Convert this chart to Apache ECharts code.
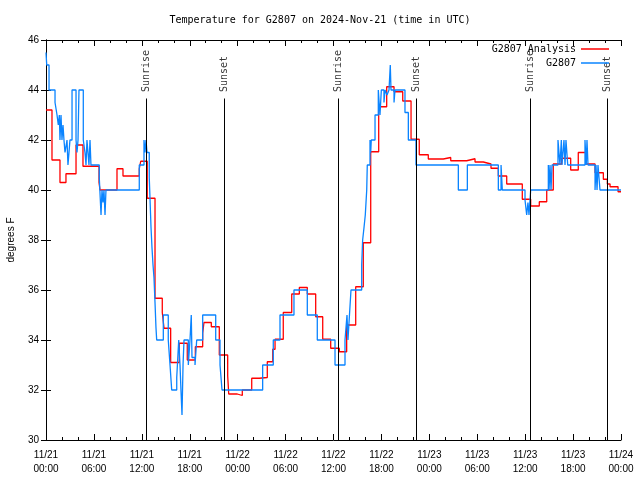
<!DOCTYPE html>
<html><head><meta charset="utf-8">
<script src="https://cdn.jsdelivr.net/npm/echarts@6/dist/echarts.min.js"></script>
<style>html,body{margin:0;padding:0;background:#fff}#c{width:640px;height:480px}</style>
</head><body><div id="c"></div>
<script>
// hours since 2024-11-21 00:00 UTC
const redT = [0,0.75,1.75,2.5,3.76,4.63,6.64,6.76,8.89,9.64,11.68,11.86,12.68,13.65,14.56,14.78,15.61,16.69,17.69,18.7,19.62,19.78,20.7,21.7,22.75,22.88,23.95,24.58,25.76,26.71,27.71,28.39,28.68,29.71,30.77,31.72,32.72,33.77,34.65,35.65,36.73,37.65,38.78,39.73,40.66,41.66,42.66,43.58,44.67,45.71,46.74,47.87,49.75,50.68,52.68,53.72,54.76,55.72,56.64,57.69,59.64,60.69,61.77,62.7,63.52,64.57,65.7,66.65,67.62,68.75,69.79,70.29,70.63,71.63,72];
const redV = [43.2,41.2,40.3,40.65,41.8,40.95,40.3,40.0,40.85,40.56,40.85,41.15,39.67,35.67,35.1,34.47,33.1,33.87,33.2,33.73,34.27,34.7,34.53,33.4,32.57,31.84,31.78,32.0,32.47,32.5,33.13,33.63,34.03,35.1,35.84,36.1,35.84,34.93,34.03,33.67,33.53,34.6,36.13,37.89,41.53,43.33,44.13,43.93,43.56,42.03,41.41,41.24,41.3,41.17,41.25,41.12,41.04,40.87,40.56,40.24,39.63,39.36,39.53,40.0,41.04,41.27,40.8,41.5,41.04,40.69,40.43,40.24,40.13,39.93,39.93];

const blueT = [0,0.09,0.38,1.13,1.38,1.54,1.67,1.75,1.88,2.0,2.13,2.25,2.38,2.63,2.75,2.88,3.0,3.26,3.76,3.88,4.01,4.13,4.67,4.88,5.01,5.13,5.38,5.51,5.63,6.67,6.89,7.01,7.14,7.26,7.39,7.51,11.68,12.27,12.4,12.52,12.65,12.93,13.15,13.27,13.4,13.52,13.65,13.77,13.86,14.69,15.31,15.53,15.74,16.37,16.62,16.78,16.9,17.03,17.16,17.28,17.82,18.03,18.19,18.28,18.66,18.87,19.62,21.25,21.79,22.04,27.13,28.46,29.3,31.05,32.72,33.97,36.19,37.44,37.69,37.81,38.0,38.19,39.53,39.65,39.82,39.98,40.16,40.23,40.57,40.66,40.73,41.2,41.61,41.82,41.99,42.32,42.45,42.7,42.95,43.11,43.2,43.58,43.7,44.95,45.37,46.33,51.63,52.76,56.64,56.98,57.14,59.98,60.19,60.35,60.48,60.69,62.9,62.99,63.11,63.24,63.36,64.11,64.36,64.53,64.61,64.86,64.99,65.11,65.33,67.49,67.65,67.74,67.87,68.75,68.87,69.0,69.12,69.37,72];
const blueV = [45.5,45,44,43.5,43,42.6,43,42,43,42,42.6,42,41.5,42,41,41.5,42,44,42,41.5,42,44,42,41.5,41,42,41,42,41,40.5,39,40,39.5,40,39,40,41,42,41.5,42,41.5,40.5,38.5,37.7,37,36.5,35.5,34.5,34,35,34,33,32,32.5,34,33,32,31,33,34,33,34,35,33.3,33,34,35,34,33,32,33,34,35,36,35,34,33,34,35,34,35,36,37,38,38.5,39,40,41,42,41.5,42,43,44,43,44,43.5,44,43.8,44,45,44,43.5,44,43.1,42,41,40,41,40,41,40,39.6,39,39.5,39,40,41,40,41,40,41,42,41,42,41,42,41,42,41,42,41,42,41,40,41,40,41,40,40];

const sunT = [12.52,22.38,36.6,46.33,60.64,70.29];
const sunText = ['Sunrise','Sunset','Sunrise','Sunset','Sunrise','Sunset'];
const xTickLabels = ['11/21\n00:00','11/21\n06:00','11/21\n12:00','11/21\n18:00','11/22\n00:00','11/22\n06:00','11/22\n12:00','11/22\n18:00','11/23\n00:00','11/23\n06:00','11/23\n12:00','11/23\n18:00','11/24\n00:00'];

const mono = 'DejaVu Sans Mono';
const sans = 'Liberation Sans';
const redData = redT.map((t,i)=>[t,redV[i]]);
const blueData = blueT.map((t,i)=>[t,blueV[i]]);
const lineTop = 43.66, labelAnchor = 43.92;

const chart = echarts.init(document.getElementById('c'), null, {renderer:'canvas'});
const axisCommon = {
  axisLine:{show:true,lineStyle:{color:'#000',width:1}},
  splitLine:{show:false}
};
chart.setOption({
  animation:false,
  backgroundColor:'#fff',
  title:{text:'Temperature for G2807 on 2024-Nov-21 (time in UTC)',left:'center',top:10,
    textStyle:{fontFamily:mono,fontSize:10,fontWeight:'normal',color:'#000'}},
  legend:[
    {data:['G2807 Analysis'],right:31,top:44,align:'right',icon:'rect',itemWidth:28,itemHeight:1.5,
      textStyle:{fontFamily:mono,fontSize:10,color:'#000'},padding:0},
    {data:['G2807'],right:31,top:58,align:'right',icon:'rect',itemWidth:28,itemHeight:1.5,
      textStyle:{fontFamily:mono,fontSize:10,color:'#000'},padding:0}
  ],
  grid:{left:46,right:19,top:40,bottom:40,containLabel:false,outerBoundsMode:'none'},
  xAxis:[
    Object.assign({type:'value',min:0,max:72,interval:6,position:'bottom',
      axisTick:{show:true,inside:true,length:6,lineStyle:{color:'#000'}},
      minorTick:{show:true,splitNumber:3,length:3,lineStyle:{color:'#000'}},
      axisLabel:{fontFamily:sans,fontSize:10,color:'#000',margin:8,lineHeight:14,
        formatter:(v)=>xTickLabels[Math.round(v/6)]}},axisCommon),
    Object.assign({type:'value',min:0,max:72,interval:6,position:'top',
      axisTick:{show:true,inside:true,length:6,lineStyle:{color:'#000'}},
      minorTick:{show:true,splitNumber:3,length:3,lineStyle:{color:'#000'}},
      axisLabel:{show:false}},axisCommon)
  ],
  yAxis:[
    Object.assign({type:'value',min:30,max:46,interval:2,position:'left',
      name:'degrees F',nameLocation:'middle',nameRotate:90,nameGap:30,
      nameTextStyle:{fontFamily:sans,fontSize:10,color:'#000'},
      axisTick:{show:true,inside:true,length:5,lineStyle:{color:'#000'}},
      axisLabel:{fontFamily:sans,fontSize:10,color:'#000',margin:7}},axisCommon),
    Object.assign({type:'value',min:30,max:46,interval:2,position:'right',
      axisTick:{show:true,inside:true,length:5,lineStyle:{color:'#000'}},
      axisLabel:{show:false}},axisCommon)
  ],
  series:[
    {name:'sun',type:'line',data:[],z:1,silent:true,
      markLine:{symbol:['none','none'],silent:true,animation:false,
        lineStyle:{color:'#000',width:1,type:'solid'},label:{show:false},
        data:sunT.map(t=>[{coord:[t,30]},{coord:[t,lineTop]}])}},
    {name:'sunLabels',type:'scatter',symbolSize:0,z:1,silent:true,
      data:sunT.map((t,i)=>({value:[t,labelAnchor],name:sunText[i]})),
      label:{show:true,formatter:(p)=>p.name,position:'inside',rotate:90,align:'left',verticalAlign:'middle',
        fontFamily:mono,fontSize:10,color:'#000'}},
    {name:'G2807 Analysis',type:'line',step:'end',data:redData,showSymbol:false,symbol:'none',z:2,
      color:'#ff0000',lineStyle:{color:'#ff0000',width:1.3}},
    {name:'G2807',type:'line',step:'end',data:blueData,showSymbol:false,symbol:'none',z:3,
      color:'#0a84ff',lineStyle:{color:'#0a84ff',width:1.3}}
  ]
});
</script></body></html>
